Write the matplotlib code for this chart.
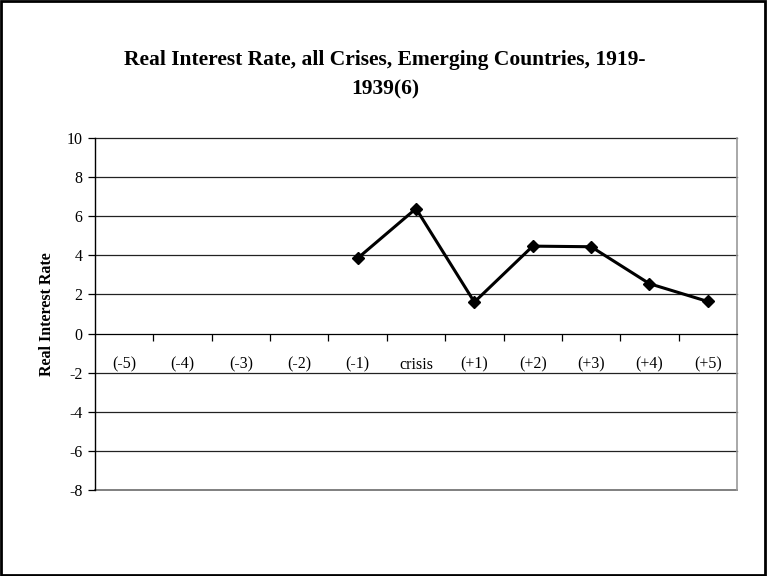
import matplotlib
matplotlib.use("Agg")
import matplotlib.pyplot as plt
from matplotlib.patches import Rectangle

categories = ["(-5)", "(-4)", "(-3)", "(-2)", "(-1)", "crisis",
              "(+1)", "(+2)", "(+3)", "(+4)", "(+5)"]
rate_cats = ["(-1)", "crisis", "(+1)", "(+2)", "(+3)", "(+4)", "(+5)"]
rate_vals = [3.85, 6.39, 1.61, 4.47, 4.44, 2.55, 1.64]
yticks = [-8, -6, -4, -2, 0, 2, 4, 6, 8, 10]

SERIF = ["Liberation Serif", "DejaVu Serif"]

fig = plt.figure(figsize=(7.67, 5.76), dpi=100)
ax = fig.add_axes([95 / 767, 1 - 490 / 576, 642 / 767, 352 / 576])

pos = {c: i for i, c in enumerate(categories)}
xs = [pos[c] for c in rate_cats]
ax.plot(xs, rate_vals, "-D", color="black", lw=2.2, ms=6.5, zorder=5, clip_on=False)

ax.set_xlim(-0.5, len(categories) - 0.5)
ax.set_ylim(-8, 10)

# horizontal gridlines
for v in yticks:
    if v == 0:
        continue
    ax.axhline(v, color="#222222" if v != -8 else "#808080",
               lw=0.9 if v != -8 else 1.4, zorder=1, clip_on=False)

ax.set_yticks(yticks)
ax.set_yticklabels([str(v) for v in yticks], family=SERIF, fontsize=11.5)
ax.tick_params(axis="y", direction="out", length=5, width=0.9, pad=4)

# category axis sits at y = 0
ax.spines["bottom"].set_position(("data", 0))
ax.spines["bottom"].set_linewidth(0.9)
ax.set_xticks([i - 0.5 for i in range(1, len(categories))])
ax.set_xticklabels([])
ax.tick_params(axis="x", direction="out", length=5, width=0.9)
for i, c in enumerate(categories):
    ax.text(i, -1.6, c, ha="center", va="center", family=SERIF, fontsize=11.5)

ax.spines["top"].set_visible(False)
ax.spines["right"].set_color("#999999")
ax.spines["right"].set_linewidth(1.2)
ax.spines["left"].set_linewidth(1.0)

ax.set_ylabel("Real Interest Rate", family=SERIF, fontsize=11.5, fontweight="bold", labelpad=8)

fig.text(385 / 767, 1 - 74.5 / 576,
         "Real Interest Rate, all Crises, Emerging Countries, 1919-\n1939(6)",
         ha="center", va="center", family=SERIF, fontsize=15.5, fontweight="bold",
         linespacing=1.65)

# outer chart border
fig.patches.append(Rectangle((0.001, 0.001), 0.997, 0.997, transform=fig.transFigure,
                             fill=False, edgecolor="black", lw=2))

fig.savefig("out.png", dpi=100)
